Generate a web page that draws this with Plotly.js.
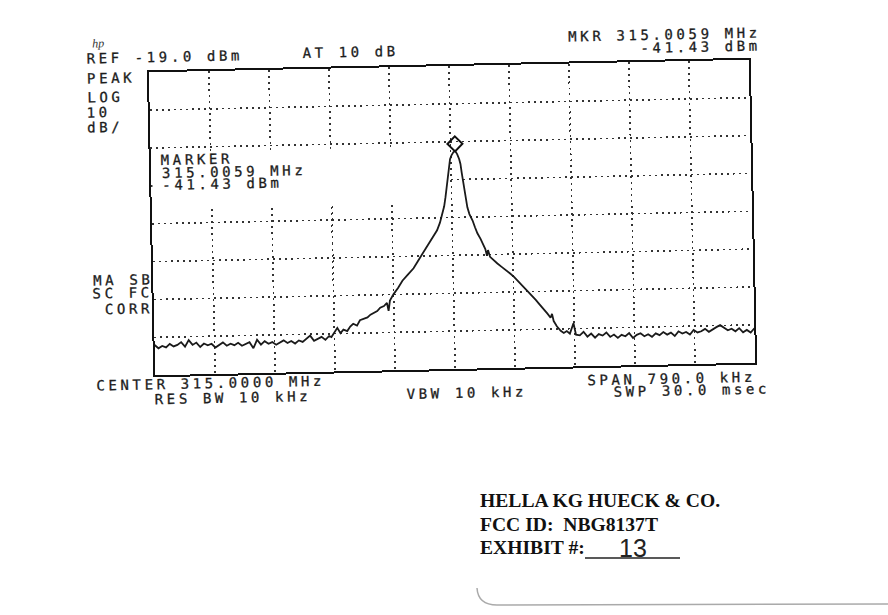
<!DOCTYPE html>
<html><head><meta charset="utf-8">
<script src="https://cdn.plot.ly/plotly-3.0.1.min.js"></script>
<style>
html,body{margin:0;padding:0;background:#fff;}
#wrap{position:relative;width:888px;height:615px;overflow:hidden;background:#fff;}
#chart{position:absolute;left:0;top:0;width:888px;height:615px;transform-origin:452px 217.5px;transform:rotate(-1.2deg);}
#sticker{position:absolute;left:0;top:0;width:888px;height:615px;pointer-events:none;}
</style>
</head><body><div id="wrap"><div id="chart"></div><div id="sticker"></div></div>
<script>
// ---- instrument settings ----
const centerMHz = 315.0;
const spanKHz = 790;
const refDbm = -19;
const dbPerDiv = 10;
const markerMHz = 315.0059;
const markerDbm = -41.43;

// ---- trace (offset from centre in kHz, level in dBm) ----
const floorLeftKHz = [-395,-390,-385,-380,-375,-370,-365,-360,-355,-350,-345,-340,-335,-330,-325,-320,-315,-310,-305,-300,-295,-290,-285,-280,-275,-270,-265,-260,-255,-250,-245,-240,-235,-230,-225,-220,-215,-210,-205,-200,-195,-190,-185,-180,-175,-170,-165];
const floorLeftDbm = [-91.0,-91.9,-91.3,-91.7,-90.8,-91.5,-91.1,-90.4,-91.6,-89.9,-91.2,-90.6,-91.8,-90.9,-91.4,-91.0,-92.0,-91.3,-90.7,-91.6,-91.1,-91.5,-90.9,-91.7,-91.2,-90.8,-92.4,-90.2,-91.5,-90.6,-91.3,-90.9,-91.6,-91.0,-90.5,-91.2,-90.7,-91.4,-90.6,-91.0,-90.2,-89.4,-90.8,-90.3,-89.8,-90.6,-89.6];
const skirtKHz = [-162,-158,-154,-150,-146,-141,-137,-133,-128,-124,-119,-114,-110,-106,-101,-97,-92,-88,-86,-84,-79,-73,-67,-60,-52,-47,-43,-38,-33,-29,-26,-23,-20,-16,-13,-10,-8,-6,-4.5,-3,-1,1,3.5,5.9,8.5,11,12.6,14,15.8,18,20.5,23,27,30,33,37,40,43,45,46.5,49,54,58.5,64,70,75,80,85,89,94,99,104,108,112,116,120,123,127,129,131,135,140,144,148,152,157,160];
const skirtDbm = [-89.9,-88.6,-87.5,-88.9,-88.0,-88.4,-87.2,-86.5,-87.0,-85.6,-85.3,-84.9,-84.2,-83.7,-83.3,-82.4,-82.0,-81.2,-83.3,-80.6,-78.9,-77.3,-75.4,-73.9,-72.2,-70.6,-69.4,-67.8,-66.3,-65.0,-64.2,-63.5,-62.3,-60.3,-58.4,-56.0,-53.6,-50.8,-48.2,-45.5,-43.6,-42.6,-41.8,-41.43,-42.3,-43.6,-44.9,-47.2,-50.0,-53.5,-56.4,-58.2,-59.9,-61.7,-63.3,-64.8,-66.0,-67.5,-69.3,-67.8,-69.6,-70.6,-71.4,-72.3,-73.2,-74.1,-75.0,-76.1,-76.8,-78.1,-79.0,-80.3,-81.2,-82.2,-83.1,-84.2,-84.9,-86.0,-85.0,-86.9,-88.3,-89.5,-90.1,-89.6,-90.3,-87.6,-90.6];
const floorRightKHz = [165,170,175,180,185,190,195,200,205,210,215,220,225,230,235,240,245,250,255,260,265,270,275,280,285,290,295,300,305,310,315,320,325,330,335,340,345,350,355,360,365,370,375,380,385,390,395];
const floorRightDbm = [-90.8,-89.9,-91.2,-90.4,-91.5,-90.6,-91.0,-90.2,-91.4,-90.8,-91.7,-90.9,-91.3,-90.5,-91.8,-91.0,-90.6,-91.4,-90.9,-91.6,-90.7,-91.2,-90.4,-91.1,-90.6,-91.5,-90.3,-90.9,-90.5,-91.2,-90.0,-90.7,-90.4,-89.8,-90.6,-89.9,-89.4,-88.9,-89.6,-90.3,-89.9,-90.6,-89.8,-90.9,-90.3,-91.0,-89.9];

// ---- screen texts ----
const topLeftLines = ["REF -19.0 dBm", "PEAK", "LOG", "10", "dB/"];
const attenText = "AT 10 dB";
const mkrLines = ["MKR 315.0059 MHz", "-41.43 dBm"];
const markerBlock = ["MARKER", "315.0059 MHz", "-41.43 dBm"];
const corrLines = ["MA SB", "SC FC", "CORR"];
const bottomTexts = ["CENTER 315.0000 MHz", "RES BW 10 kHz", "VBW 10 kHz", "SPAN 790.0 kHz", "SWP 30.0 msec"];
const stickerLines = ["HELLA KG HUECK &amp; CO.", "FCC ID:\u00a0\u00a0NBG8137T", "EXHIBIT #:"];
const exhibitNo = "13";

// ---- build trace ----
const offKHz = floorLeftKHz.concat(skirtKHz, floorRightKHz);
const lvl = floorLeftDbm.concat(skirtDbm, floorRightDbm);
const freqMHz = offKHz.map(k => centerMHz + k / 1000);

const startMHz = centerMHz - spanKHz / 2000;
const stopMHz = centerMHz + spanKHz / 2000;
const divMHz = spanKHz / 10000;
const botDbm = refDbm - 8 * dbPerDiv;

// ---- layout geometry (pixels); the scanned sheet is tilted by 1.2 degrees ----
const W = 888, H = 615, L = 152, R = 136, T = 66, B = 246;
const pw = W - L - R, ph = H - T - B;
const cx = L + pw / 2, cy = T + ph / 2, ang = 1.2 * Math.PI / 180;
function unrot(x, y) {
  const dx = x - cx, dy = y - cy;
  return [cx + dx * Math.cos(ang) - dy * Math.sin(ang), cy + dx * Math.sin(ang) + dy * Math.cos(ang)];
}
const px = x => (x - L) / pw;
const py = y => (H - B - y) / ph;

const mono = {family: "DejaVu Sans Mono, monospace", size: 14, color: "#1c1c1c"};
const sp = t => '<span style="letter-spacing:3.6px;stroke:#1c1c1c;stroke-width:0.3px">' + t + '</span>';
function lab(t, x, y, anchor) {
  const u = unrot(x, y);
  return {text: sp(t), x: px(u[0]), y: py(u[1]), xref: 'paper', yref: 'paper',
    xanchor: anchor || 'left', yanchor: 'middle', showarrow: false, font: mono, borderpad: 0};
}
const ann = [];
ann.push(lab(topLeftLines[0], 86, 58.5));
ann.push(lab(topLeftLines[1], 86, 79));
ann.push(lab(topLeftLines[2], 86, 98));
ann.push(lab(topLeftLines[3], 86, 112.5));
ann.push(lab(topLeftLines[4], 86, 127.5));
ann.push(lab(attenText, 302, 53));
ann.push(lab(mkrLines[0], 761, 32, 'right'));
ann.push(lab(mkrLines[1], 761, 45, 'right'));
ann.push(lab(markerBlock[0], 160, 160.5));
ann.push(lab(markerBlock[1], 161, 173));
ann.push(lab(markerBlock[2], 161, 185));
ann.push(lab(corrLines[0], 154, 279, 'right'));
ann.push(lab(corrLines[1], 154, 292.5, 'right'));
ann.push(lab(corrLines[2], 154, 308, 'right'));
ann.push(lab(bottomTexts[0], 95, 386));
ann.push(lab(bottomTexts[1], 154, 399.5));
ann.push(lab(bottomTexts[2], 406, 394));
ann.push(lab(bottomTexts[3], 756, 376.5, 'right'));
ann.push(lab(bottomTexts[4], 771, 388.5, 'right'));
const hpPos = unrot(98, 43);
ann.push({text: '<i>hp</i>', x: px(hpPos[0]), y: py(hpPos[1]), xref: 'paper', yref: 'paper', showarrow: false,
  font: {family: 'Liberation Serif, serif', size: 12, color: '#333'}, xanchor: 'center', yanchor: 'middle'});

const shapes = [
  // graticule is blanked behind the marker read-out
  {type: 'rect', layer: 'between', xref: 'x', yref: 'y', x0: startMHz + 0.02 * divMHz, x1: startMHz + 4.93 * divMHz,
   y0: refDbm - 2.12 * dbPerDiv, y1: refDbm - 3.62 * dbPerDiv, fillcolor: '#fff', line: {width: 0}},
  {type: 'path', xref: 'x', yref: 'y', xsizemode: 'pixel', ysizemode: 'pixel', xanchor: markerMHz, yanchor: markerDbm,
   path: 'M -7.5 7 L 0 14.5 L 7.5 7 L 0 -0.5 Z', line: {color: '#111', width: 2}}
];

const gridStyle = {showgrid: true, griddash: '2px,4px', gridcolor: '#333', gridwidth: 1.6, zeroline: false,
  showticklabels: false, ticks: '', showline: true, mirror: true, linecolor: '#111', linewidth: 2};

const data = [{x: freqMHz, y: lvl, type: 'scatter', mode: 'lines', line: {color: '#1a1a1a', width: 1.8}, hoverinfo: 'skip'}];
const layout = {
  width: W, height: H, autosize: false, showlegend: false,
  margin: {l: L, r: R, t: T, b: B, pad: 0},
  paper_bgcolor: '#fff', plot_bgcolor: '#fff',
  xaxis: Object.assign({range: [startMHz, stopMHz], tick0: startMHz, dtick: divMHz, fixedrange: true}, gridStyle),
  yaxis: Object.assign({range: [botDbm, refDbm], tick0: refDbm, dtick: dbPerDiv, fixedrange: true}, gridStyle),
  annotations: ann, shapes: shapes
};
Plotly.newPlot('chart', data, layout, {staticPlot: true, displayModeBar: false});

// ---- label sticker (not tilted), pixel coordinates ----
const serif = {family: "Liberation Serif, Times New Roman, serif", size: 19.6, color: "#111", weight: 'bold'};
const sAnn = [500, 524, 547].map((y, i) => ({text: '<b>' + stickerLines[i] + '</b>', x: 479, y: y,
  xref: 'x', yref: 'y', xanchor: 'left', yanchor: 'middle', showarrow: false, font: serif, borderpad: 0}));
sAnn.push({text: exhibitNo, x: 633, y: 548, xref: 'x', yref: 'y', showarrow: false,
  font: {family: 'Liberation Sans, sans-serif', size: 25, color: '#222'}, xanchor: 'center', yanchor: 'middle'});
const sShapes = [
  {type: 'line', xref: 'x', yref: 'y', x0: 585, x1: 680, y0: 558, y1: 558, line: {color: '#222', width: 1.5}},
  {type: 'path', xref: 'x', yref: 'y', path: 'M 477 588 Q 478 605 497 605 L 888 604', line: {color: '#aaa', width: 1.5}}
];
const hidden = {visible: false, fixedrange: true};
Plotly.newPlot('sticker', [], {
  width: W, height: H, autosize: false, showlegend: false, margin: {l: 0, r: 0, t: 0, b: 0, pad: 0},
  paper_bgcolor: 'rgba(0,0,0,0)', plot_bgcolor: 'rgba(0,0,0,0)',
  xaxis: Object.assign({range: [0, W]}, hidden), yaxis: Object.assign({range: [H, 0]}, hidden),
  annotations: sAnn, shapes: sShapes
}, {staticPlot: true, displayModeBar: false});
</script></body></html>
